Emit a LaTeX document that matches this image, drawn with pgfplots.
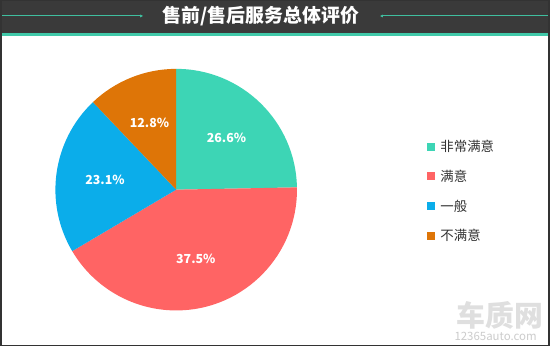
\documentclass[border=0pt]{standalone}
\usepackage{pgfplots}
\usepackage{pgfplotstable}
\pgfplotsset{compat=1.18}
\usetikzlibrary{arrows.meta}
\usepackage{fontspec}
\setmainfont{Noto Sans CJK SC}
\definecolor{cteal}{HTML}{3DD5B5}
\definecolor{cred}{HTML}{FF6464}
\definecolor{cblue}{HTML}{0BADEA}
\definecolor{corange}{HTML}{DE7507}
\definecolor{band}{HTML}{3A3A3A}
\definecolor{bandline}{HTML}{40C9A9}
\definecolor{tline}{HTML}{3FBF9F}
\definecolor{txt}{HTML}{333333}
\newcommand\labelfont{\fontsize{12.5}{14}\selectfont\bfseries}
\newcommand\legfont{\fontsize{13.5}{15}\selectfont}

% slice value (share drawn), colour, printed label, legend name
\pgfplotstableread[col sep=comma]{
value,color,label,name
24.7,cteal,26.6,非常满意
41.8,cred,37.5,满意
21.4,cblue,23.1,一般
12.1,corange,12.8,不满意
}\piedata

\begin{document}
\begin{tikzpicture}
\begin{axis}[scale only axis, width=550bp, height=347bp,
  xmin=0, xmax=550, ymin=0, ymax=347, hide axis, clip=false]
% background and header
\fill[white] (axis cs:0,0) rectangle (axis cs:550,347);
\fill[band] (axis cs:0,314) rectangle (axis cs:550,347);
\fill[bandline] (axis cs:0,311) rectangle (axis cs:550,314.2);
\draw[tline, line width=1bp, -{Latex[length=3bp,width=3bp]}] (axis cs:0,331) -- (axis cs:143,331);
\draw[tline, line width=1bp, {Latex[length=3bp,width=3bp]}-] (axis cs:380,331) -- (axis cs:550,331);
\node[text=white, font=\fontsize{19}{21}\selectfont\bfseries] at (axis cs:261,331) {售前/售后服务总体评价};

% pie
\pgfplotstablegetrowsof{\piedata}
\pgfmathtruncatemacro\nrows{\pgfplotsretval-1}
\gdef\cum{0}
\pgfplotsforeachungrouped \i in {0,...,\nrows}{%
  \pgfplotstablegetelem{\i}{value}\of\piedata \let\v\pgfplotsretval
  \pgfplotstablegetelem{\i}{color}\of\piedata \let\c\pgfplotsretval
  \pgfplotstablegetelem{\i}{label}\of\piedata \let\l\pgfplotsretval
  \pgfplotstablegetelem{\i}{name}\of\piedata \let\n\pgfplotsretval
  \pgfmathsetmacro\a{90-3.6*\cum}%
  \pgfmathsetmacro\b{90-3.6*(\cum+\v)}%
  \pgfmathsetmacro\m{(\a+\b)/2}%
  \pgfmathsetmacro\sx{176+121*cos(\a)}%
  \pgfmathsetmacro\sy{157+121*sin(\a)}%
  \pgfmathsetmacro\lx{176+72*cos(\m)}%
  \pgfmathsetmacro\ly{157+72*sin(\m)}%
  \pgfmathsetmacro\ry{200-29.7*\i}%
  \edef\temp{%
    \noexpand\fill[\c] (axis cs:176,157) -- (axis cs:\sx,\sy) arc[start angle=\a, end angle=\b, radius=121bp] -- cycle;
    \noexpand\node[text=white, font=\noexpand\labelfont] at (axis cs:\lx,\ly) {\l\noexpand\%};
    \noexpand\fill[\c] (axis cs:427.5,\ry-4) rectangle (axis cs:435.5,\ry+4);
    \noexpand\node[anchor=west, text=txt, font=\noexpand\legfont, inner sep=0pt] at (axis cs:440.5,\ry) {\n};
  }%
  \temp
  \pgfmathsetmacro\newcum{\cum+\v}%
  \xdef\cum{\newcum}%
}

% watermark
\node[text=gray!25, font=\fontsize{29}{31}\selectfont\bfseries] at (axis cs:500,31) {车质网};
\node[text=gray!40, font=\fontsize{11.5}{13}\selectfont] at (axis cs:496,10) {12365auto.com};

% frame
\draw[txt, line width=1.5bp] (axis cs:0.75,0.75) rectangle (axis cs:549.25,346.25);
\end{axis}
\end{tikzpicture}
\end{document}
